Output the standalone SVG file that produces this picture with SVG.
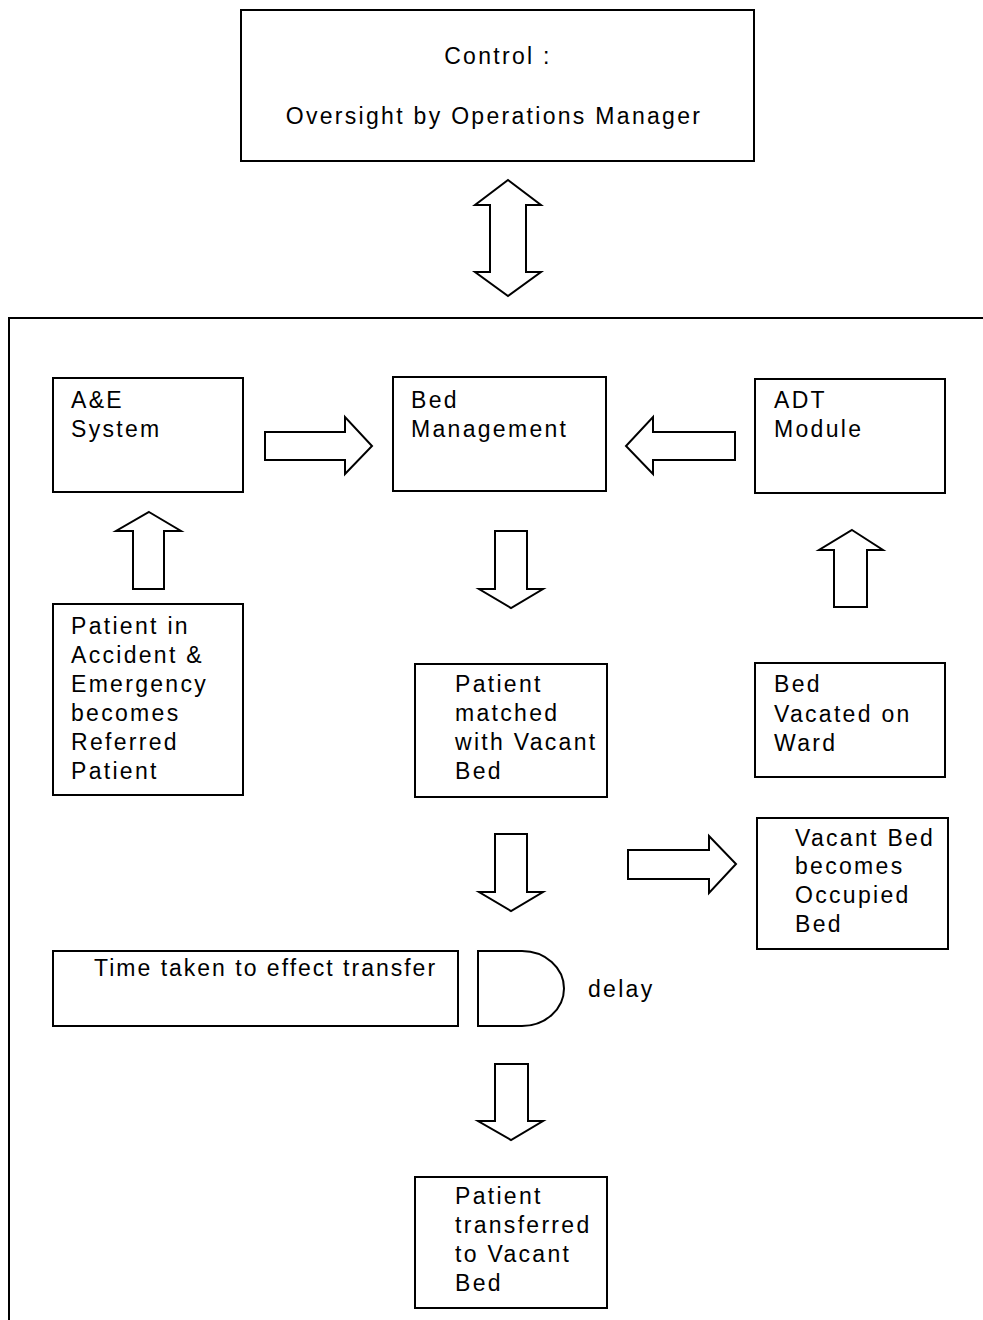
<svg xmlns="http://www.w3.org/2000/svg" width="983" height="1320" viewBox="0 0 983 1320">
<style>
.box{fill:#fff;stroke:#000;stroke-width:2}
.arr{fill:#fff;stroke:#000;stroke-width:2;stroke-linejoin:miter}
text{font-family:"Liberation Sans",Arial,sans-serif;font-size:23px;letter-spacing:2.3px;fill:#000}
.tight{letter-spacing:2px}
</style>
<rect width="983" height="1320" fill="#fff"/>
<g id="frame"><path d="M9,1320 V318 H983" fill="none" stroke="#000" stroke-width="2"/></g>
<g id="control">
<rect class="box" x="241" y="10" width="513" height="151"/>
<text x="498" y="64" text-anchor="middle">Control :</text>
<text x="494" y="124" text-anchor="middle">Oversight by Operations Manager</text>
</g>
<g id="ae">
<rect class="box" x="53" y="378" width="190" height="114"/>
<text x="71" y="408">A&amp;E</text>
<text x="71" y="437">System</text>
</g>
<g id="bedmgmt">
<rect class="box" x="393" y="377" width="213" height="114"/>
<text x="411" y="408">Bed</text>
<text x="411" y="437">Management</text>
</g>
<g id="adt">
<rect class="box" x="755" y="379" width="190" height="114"/>
<text x="774" y="408">ADT</text>
<text x="774" y="437">Module</text>
</g>
<g id="patientin">
<rect class="box" x="53" y="604" width="190" height="191"/>
<text x="71" y="634">Patient in</text>
<text x="71" y="663">Accident &amp;</text>
<text x="71" y="692">Emergency</text>
<text x="71" y="721">becomes</text>
<text x="71" y="750">Referred</text>
<text x="71" y="779">Patient</text>
</g>
<g id="matched">
<rect class="box" x="415" y="664" width="192" height="133"/>
<text x="455" y="692">Patient</text>
<text x="455" y="721">matched</text>
<text x="455" y="750">with Vacant</text>
<text x="455" y="779">Bed</text>
</g>
<g id="vacated">
<rect class="box" x="755" y="663" width="190" height="114"/>
<text x="774" y="692">Bed</text>
<text x="774" y="722">Vacated on</text>
<text x="774" y="751">Ward</text>
</g>
<g id="occupied">
<rect class="box" x="757" y="818" width="191" height="131"/>
<text x="795" y="846">Vacant Bed</text>
<text x="795" y="874">becomes</text>
<text x="795" y="903">Occupied</text>
<text x="795" y="932">Bed</text>
</g>
<g id="timetaken">
<rect class="box" x="53" y="951" width="405" height="75"/>
<text class="tight" x="94" y="976">Time taken to effect transfer</text>
</g>
<g id="delay">
<path class="box" d="M478,951 H522 A42,37.5 0 0 1 522,1026 H478 Z"/>
<text x="588" y="997">delay</text>
</g>
<g id="transferred">
<rect class="box" x="415" y="1177" width="192" height="131"/>
<text x="455" y="1204">Patient</text>
<text x="455" y="1233">transferred</text>
<text x="455" y="1262">to Vacant</text>
<text x="455" y="1291">Bed</text>
</g>
<g id="connectors">
<path class="arr" d="M508,180 L541,205 H526 V272 H541 L508,296 L475,272 H490 V205 H475 Z"/>
<path class="arr" d="M265,432 H345 V417 L372,446 L345,474 V460 H265 Z"/>
<path class="arr" d="M735,432 H653 V417 L626,446 L653,474 V460 H735 Z"/>
<path class="arr" d="M149,512 L181,531 H164 V589 H133 V531 H116 Z"/>
<path class="arr" d="M495,531 H527 V589 H543 L511,608 L479,589 H495 Z"/>
<path class="arr" d="M852,530 L883,550 H867 V607 H834 V550 H819 Z"/>
<path class="arr" d="M495,834 H527 V892 H543 L511,911 L479,892 H495 Z"/>
<path class="arr" d="M628,850 H709 V836 L736,864 L709,893 V879 H628 Z"/>
<path class="arr" d="M495,1064 H528 V1121 H543 L511,1140 L478,1121 H495 Z"/>
</g>
</svg>
